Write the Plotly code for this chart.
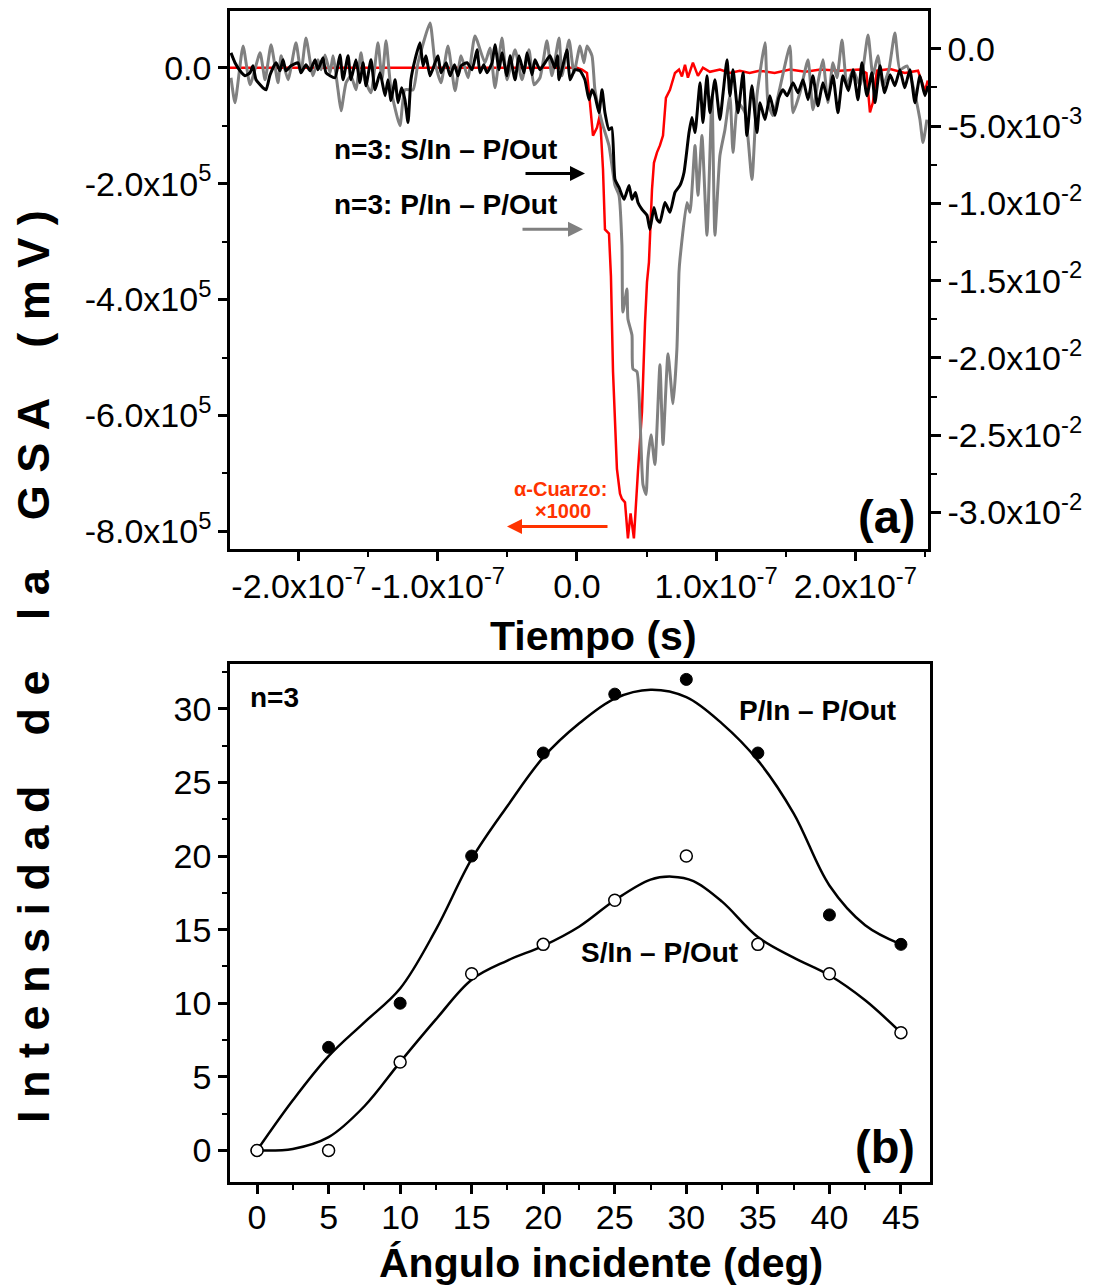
import plotly.graph_objects as go

# ---------------- panel (a): GSA transients ----------------
# time in ns
RED_T_NS = [-250, -200, -150, -100, -50, -10, 0,
            3.6, 7.2, 9.3, 11.5, 14.4, 16.5, 18.7, 20.1, 23.0, 24.4,
            25.9, 28.7, 30.9, 32.3, 34.5, 36.6, 38.5, 40.9, 43.8, 46.7,
            48.9, 50.3, 51.7, 53.9, 55.3, 57.5, 59.6, 61.8, 63.9, 66.8,
            70.4, 73.3, 75.4, 77.6, 79.7, 83.3, 86.9, 90.5, 95.5, 102.7,
            109.9, 117, 124, 131, 142, 153, 164, 175, 189, 203,
            208, 210.5, 212.6, 215.5, 225, 235.6, 245, 250, 252]
# alpha-quartz x1000, left axis, units of 1e5 mV
RED_1E5 = [0, 0, 0, 0, 0, 0, 0,
           -0.03, -0.09, -0.60, -1.17, -1.03, -0.81, -1.76, -2.79, -2.86, -3.6,
           -5.25, -6.92, -7.35, -7.44, -7.50, -8.12, -7.69, -8.12, -6.97, -5.94,
           -4.39, -3.70, -3.36, -2.10, -1.64, -1.46, -1.34, -1.17, -0.52, -0.38,
           -0.09, -0.03, -0.15, 0.05, -0.17, 0.09, -0.14, 0, -0.07, -0.03,
           -0.09, -0.05, -0.09, -0.05, -0.09, -0.03, -0.07, -0.03, -0.05, -0.03,
           -0.09, -0.77, -0.60, -0.05, -0.02, -0.09, -0.05, -0.40, -0.22]

# n=3 S/In - P/Out, right axis, units of 1e-3 mV
BLACK_T_NS = [-248.6, -245.7, -242.1, -238.5, -234.9, -232.8, -230.6, -225.6, -223.4, -220.5,
              -216.2, -213.4, -211.2, -209.1, -205.5, -200.4, -198.3, -194.7, -191.8, -188.2,
              -186.1, -182.5, -180.3, -173.9, -170.3, -168.1, -164.5, -162.4, -158.8, -155.9,
              -153.7, -151.6, -148.0, -145.1, -141.5, -137.9, -135.8, -133.6, -130.7, -128.6,
              -126.0, -123.6, -121.4, -119.3, -116.4, -112.8, -110.6, -108.5, -105.6, -102.0,
              -99.9, -97.7, -94.0, -91.2, -88.0, -85.5, -83.3, -79.0, -75.4, -71.8,
              -69.7, -67.0, -64.7, -61.0, -58.9, -56.0, -53.9, -50.3, -48.1, -44.5,
              -41.7, -38.1, -35.9, -32.3, -30.2, -26.6, -23.0, -19.4, -16.0, -14.0,
              -12.9, -10.0, -7.2, -5.0, -1.4, 2.2, 5.7, 8.6, 10.8, 12.9,
              15.8, 18.0, 20.1, 23.0, 25.0, 27.3, 30.2, 33.8, 37.4, 39.5,
              42.0, 43.8, 46.7, 50.3, 52.4, 55.3, 57.5, 59.6, 63.2, 66.8,
              70.4, 74.0, 76.9, 80.5, 82.6, 84.8, 88.4, 90.5, 93.4, 95.5,
              99.1, 102.7, 105.0, 107.8, 109.9, 112.1, 115.7, 119.3, 122.1, 125.7,
              129.3, 131.5, 135.1, 138.6, 142.2, 145.0, 148.0, 151.0, 155.2, 158.8,
              162.4, 166.0, 169.5, 173.1, 176.7, 180.3, 183.9, 187.5, 191.1, 195.0,
              198.3, 201.9, 204.7, 208.3, 211.9, 214.1, 217.7, 221.0, 225.0, 228.4,
              232.0, 235.5, 239.2, 242.8, 246.4, 250.0, 252.2]
BLACK_1E3 = [-0.26, -0.90, -1.42, -1.74, -1.55, -1.10, -2.00, -2.52, -2.65, -1.68,
             -0.90, -1.42, -0.71, -1.42, -1.10, -0.90, -1.55, -1.03, -1.42, -0.71,
             -1.35, -0.58, -1.55, -1.87, -0.39, -2.00, -0.45, -2.00, -0.71, -2.19,
             -0.90, -2.39, -0.71, -2.65, -1.55, -3.03, -2.00, -3.35, -2.00, -3.48,
             -2.52, -3.29, -4.77, -2.00, -0.71, 0.39, -1.10, -0.45, -1.74, -0.90,
             -0.45, -1.55, -0.90, -1.74, -1.03, -1.74, -1.10, -0.90, -1.35, -0.06,
             -1.55, -1.03, -1.55, -0.90, 0.26, -1.35, -0.26, -1.74, -0.45, -2.00,
             -0.45, -1.55, -0.26, -1.68, -0.71, -1.35, -0.90, -0.45, -1.23, -0.45,
             -2.00, -1.03, -0.06, -2.00, -1.35, -1.42, -2.00, -3.29, -2.65, -3.03,
             -4.13, -2.65, -4.13, -5.23, -5.10, -8.45, -8.97, -9.74, -8.84, -9.74,
             -9.29, -9.94, -10.39, -10.77, -11.68, -10.26, -11.03, -11.23, -9.94, -10.58,
             -9.29, -8.84, -8.00, -5.42, -4.45, -5.42, -2.19, -4.77, -1.74, -4.13,
             -2.00, -4.58, -2.84, -0.71, -3.03, -1.35, -4.13, -1.55, -5.61, -2.39,
             -5.42, -3.48, -4.58, -3.03, -4.32, -3.16, -2.65, -3.03, -2.19, -2.84,
             -2.00, -3.29, -1.74, -3.68, -2.19, -3.29, -1.74, -4.13, -1.74, -2.71,
             -1.35, -3.29, -0.90, -3.03, -1.55, -3.48, -1.10, -2.84, -1.68, -2.39,
             -1.35, -2.52, -1.35, -3.48, -1.74, -3.03, -2.39]

# n=3 P/In - P/Out, right axis, units of 1e-3 mV
GRAY_T_NS = [-248.6, -245.7, -239.9, -234.9, -227.7, -224.1, -219.8, -214.8, -212.6, -207.6,
             -201.9, -198.3, -194.7, -189.7, -186.1, -183.9, -181.0, -177.4, -175.3, -171.7,
             -169.5, -165.9, -162.4, -158.8, -155.2, -152.3, -148.0, -143.0, -140.1, -137.2,
             -133.6, -127.2, -123.6, -117.8, -114.2, -105.6, -102.0, -97.7, -92.7, -87.6,
             -83.3, -78.3, -73.3, -66.1, -62.5, -58.9, -53.9, -50.3, -44.5, -39.5,
             -34.5, -30.9, -26.6, -21.6, -18.0, -12.9, -10.8, -5.7, -2.2, 2.2,
             5.0, 7.2, 10.8, 12.9, 18.0, 23.0, 27.3, 30.2, 32.3, 33.0,
             35.9, 36.6, 39.5, 40.2, 43.1, 45.3, 47.4, 49.6, 51.0, 53.2,
             56.0, 59.6, 61.8, 65.4, 69.0, 71.8, 73.3, 74.0, 79.0, 81.2,
             84.8, 86.9, 89.8, 93.4, 97.0, 99.1, 102.7, 106.3, 109.9, 112.1,
             115.7, 120.7, 125.7, 129.3, 135.1, 137.2, 140.8, 145.8, 153.0, 155.2,
             160.2, 166.0, 169.5, 173.1, 176.7, 180.3, 183.9, 186.8, 190.4, 194.0,
             198.3, 203.3, 209.1, 212.6, 216.2, 219.8, 224.1, 228.4, 232.0, 237.1,
             241.4, 246.4, 248.6, 251.4]
GRAY_1E3 = [-1.87, -3.48, 0.19, -2.32, -0.26, -2.00, 0.26, -2.19, -0.45, -2.00,
            0.39, -1.55, 0.71, -1.74, -0.71, -1.35, -0.39, -1.55, -0.45, -2.65,
            -4.00, -2.19, -1.74, -2.65, -0.26, -2.00, -2.84, 0.39, -2.00, 0.52,
            -2.65, -4.97, -2.65, -2.65, -0.90, 1.68, -0.90, -2.19, 0.19, -2.71,
            -0.45, -1.87, 0.84, -0.90, 0.06, -2.52, 0.71, -2.00, -0.06, -2.00,
            -0.06, -2.32, -1.87, 0.52, -1.74, 0.71, -1.74, 0.58, -1.55, 0.19,
            -0.90, 0.19, -0.45, -2.65, -4.77, -6.26, -8.84, -9.48, -12.71, -17.03,
            -15.55, -17.48, -18.52, -20.71, -20.90, -23.94, -28.19, -28.84, -26.52, -24.97,
            -26.90, -20.45, -25.61, -19.74, -22.97, -19.42, -14.45, -13.61, -9.94, -10.58,
            -6.26, -9.48, -5.61, -12.06, -3.03, -12.06, -6.90, -5.23, -3.03, -6.71,
            -3.48, -4.13, -8.45, -3.03, 0.39, -3.48, -4.32, -2.52, 0.19, -4.13,
            -2.84, -0.71, -3.94, -2.19, -0.71, -3.48, -0.90, -1.87, 0.58, -2.39,
            -1.35, -2.39, 0.90, -1.74, -0.45, -2.39, -1.35, 1.03, -1.35, -1.10,
            -2.39, -4.58, -6.06, -4.58]

LEFT_TICKS = [0, -2e5, -4e5, -6e5, -8e5]
LEFT_LABELS = ["0.0", "-2.0x10<sup>5</sup>", "-4.0x10<sup>5</sup>",
               "-6.0x10<sup>5</sup>", "-8.0x10<sup>5</sup>"]
RIGHT_TICKS = [0, -5e-3, -1e-2, -1.5e-2, -2e-2, -2.5e-2, -3e-2]
RIGHT_LABELS = ["0.0", "-5.0x10<sup>-3</sup>", "-1.0x10<sup>-2</sup>", "-1.5x10<sup>-2</sup>",
                "-2.0x10<sup>-2</sup>", "-2.5x10<sup>-2</sup>", "-3.0x10<sup>-2</sup>"]
TIME_TICKS = [-2e-7, -1e-7, 0, 1e-7, 2e-7]
TIME_LABELS = ["-2.0x10<sup>-7</sup>", "-1.0x10<sup>-7</sup>", "0.0",
               "1.0x10<sup>-7</sup>", "2.0x10<sup>-7</sup>"]

# ---------------- panel (b): intensity vs angle ----------------
ANGLES = [0, 5, 10, 15, 20, 25, 30, 35, 40, 45]
P_IN = [0, 7, 10, 20, 27, 31, 32, 27, 16, 14]
S_IN = [0, 0, 6, 12, 14, 17, 20, 14, 12, 8]
# smooth guide curves as drawn in the figure
P_CURVE_X = [0, 2.5, 5, 7.5, 10, 12.5, 15, 17.5, 20, 22.5, 25, 27.5, 30, 32.5, 35, 37.5, 40, 42.5, 45]
P_CURVE_Y = [0, 3.4, 6.4, 8.7, 11.0, 15.0, 19.8, 23.4, 26.7, 29.0, 30.7, 31.3, 30.8, 29.0, 26.5, 22.9, 18.0, 15.3, 14.0]
S_CURVE_X = [0, 2.5, 5, 7.5, 10, 12.5, 15, 17.5, 20, 22.5, 25, 27.5, 29, 30.5, 32.5, 35, 37.5, 40, 42.5, 45]
S_CURVE_Y = [0, 0.1, 0.9, 3.0, 6.0, 8.9, 11.6, 12.9, 13.9, 15.2, 17.0, 18.4, 18.6, 18.3, 16.9, 14.5, 13.1, 11.9, 10.2, 8.0]

FONT = "Liberation Sans, Arial, sans-serif"
W, H = 1094, 1286
OFF = 8  # page body margin


def px(x):
    return (x - OFF) / W


def py(y):
    return 1 - (y - OFF) / H


fig = go.Figure()

fig.add_trace(go.Scatter(x=[t * 1e-9 for t in GRAY_T_NS], y=[v * 1e-3 for v in GRAY_1E3],
                         mode="lines", line=dict(color="#808080", width=3, shape="spline", smoothing=0.5),
                         xaxis="x", yaxis="y2", name="P/In - P/Out"))
fig.add_trace(go.Scatter(x=[t * 1e-9 for t in RED_T_NS], y=[v * 1e5 for v in RED_1E5],
                         mode="lines", line=dict(color="#FF0000", width=2.5),
                         xaxis="x", yaxis="y", name="alpha-Cuarzo x1000"))
fig.add_trace(go.Scatter(x=[t * 1e-9 for t in BLACK_T_NS], y=[v * 1e-3 for v in BLACK_1E3],
                         mode="lines", line=dict(color="black", width=3, shape="spline", smoothing=0.5),
                         xaxis="x", yaxis="y2", name="S/In - P/Out"))

# panel (b)
fig.add_trace(go.Scatter(x=P_CURVE_X, y=P_CURVE_Y, mode="lines",
                         line=dict(color="black", width=2.5, shape="spline", smoothing=1),
                         xaxis="x2", yaxis="y4"))
fig.add_trace(go.Scatter(x=S_CURVE_X, y=S_CURVE_Y, mode="lines",
                         line=dict(color="black", width=2.5, shape="spline", smoothing=1),
                         xaxis="x2", yaxis="y4"))
fig.add_trace(go.Scatter(x=ANGLES, y=P_IN, mode="markers",
                         marker=dict(color="black", size=12, line=dict(color="black", width=1)),
                         xaxis="x2", yaxis="y4"))
fig.add_trace(go.Scatter(x=ANGLES, y=S_IN, mode="markers",
                         marker=dict(color="white", size=12, line=dict(color="black", width=1.5)),
                         xaxis="x2", yaxis="y4"))

axis_common = dict(showgrid=False, zeroline=False, showline=True, linecolor="black", linewidth=2.5,
                   ticks="outside", tickcolor="black", tickwidth=2.5, ticklen=9,
                   tickfont=dict(family=FONT, size=34, color="black"))

fig.update_layout(
    width=W, height=H,
    margin=dict(l=0, r=0, t=0, b=0),
    paper_bgcolor="white", plot_bgcolor="white",
    showlegend=False,
    font=dict(family=FONT, color="black"),
    xaxis=dict(axis_common, domain=[px(230), px(928)], anchor="y", range=[-2.493e-7, 2.522e-7],
               tickmode="array", tickvals=TIME_TICKS, ticktext=TIME_LABELS, mirror=True,
               ticklabelstandoff=-4,
               minor=dict(ticks="outside", ticklen=5, tickwidth=2, tickcolor="black", dtick=0.5e-7, tick0=0)),
    yaxis=dict(axis_common, domain=[py(548), py(8)], anchor="x", range=[-8.31e5, 0.98e5],
               tickmode="array", tickvals=LEFT_TICKS, ticktext=LEFT_LABELS,
               minor=dict(ticks="outside", ticklen=5, tickwidth=2, tickcolor="black", dtick=1e5, tick0=0)),
    yaxis2=dict(axis_common, overlaying="y", side="right", anchor="x", range=[-0.03239, 0.00245],
                tickmode="array", tickvals=RIGHT_TICKS, ticktext=RIGHT_LABELS, ticklen=10,
                minor=dict(ticks="outside", ticklen=6, tickwidth=2, tickcolor="black", dtick=2.5e-3, tick0=0)),
    yaxis3=dict(overlaying="y", side="left", anchor="x", range=[-0.03239, 0.00245],
                showgrid=False, zeroline=False, showline=False, showticklabels=False,
                ticks="outside", ticklen=5, tickwidth=2, tickcolor="black", dtick=2.5e-3, tick0=0),
    xaxis2=dict(axis_common, domain=[px(230), px(930)], anchor="y4", range=[-1.89, 47.03],
                dtick=5, tick0=0, mirror=True, ticklabelstandoff=-6,
                minor=dict(ticks="outside", ticklen=5, tickwidth=2, tickcolor="black", dtick=2.5, tick0=0)),
    yaxis4=dict(axis_common, domain=[py(1183), py(663)], anchor="x2", range=[-2.17, 33.05],
                dtick=5, tick0=0, mirror=True,
                minor=dict(ticks="outside", ticklen=5, tickwidth=2, tickcolor="black", dtick=2.5, tick0=0)),
)

RED_TXT = "#FF3300"


def note(text, x, y, size, color="black", xanchor="left", **kw):
    fig.add_annotation(text=text, x=px(x), y=py(y), xref="paper", yref="paper",
                       xanchor=xanchor, yanchor="middle", showarrow=False,
                       font=dict(family=FONT, size=size, color=color, weight="bold"), **kw)


def arrow(x_tip, x_tail, y, color):
    fig.add_annotation(text="", x=px(x_tip), y=py(y), xref="paper", yref="paper",
                       ax=x_tail - x_tip, ay=0, showarrow=True, arrowhead=2, arrowsize=1,
                       arrowwidth=3, arrowcolor=color)


note("n=3: S/In \u2013 P/Out", 332, 147, 28)
note("n=3: P/In \u2013 P/Out", 332, 202, 28)
arrow(585, 524, 171, "black")
arrow(583, 521, 227, "#808080")
note("\u03b1-Cuarzo:", 560, 487, 20, color=RED_TXT, xanchor="center")
note("\u00d71000", 563, 510, 20, color=RED_TXT, xanchor="center")
arrow(507, 609, 525, RED_TXT)
note("(a)", 917, 515, 47, xanchor="right")
note("Tiempo (s)", 593, 635, 41, xanchor="center")

note("n=3", 248, 697, 28)
note("P/In \u2013 P/Out", 737, 710, 28)
note("S/In \u2013 P/Out", 579, 952, 28)
note("(b)", 917, 1147, 47, xanchor="right")
note("\u00c1ngulo incidente (deg)", 601, 1264, 41, xanchor="center")

sp = "\u00a0"
ylab = (sp * 4).join(sp.join(word) for word in ["Intensidad", "de", "la", "GSA", "(mV)"])
note(ylab, 34, 666, 45, xanchor="center", textangle=-90)

fig.write_html("out.html")
